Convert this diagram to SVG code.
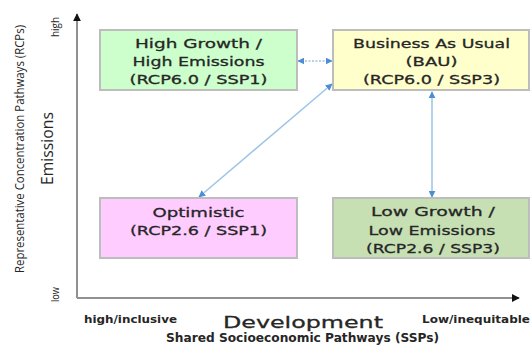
<svg xmlns="http://www.w3.org/2000/svg" width="531" height="345" viewBox="0 0 531 345">
  <style>
    .box { stroke: #bdbdbd; stroke-width: 2; }
    .bt { font-family: "DejaVu Sans", Verdana, sans-serif; font-size: 13px; fill: #262626; stroke: #262626; stroke-width: 0.3; text-anchor: middle; }
    .axis { stroke: #909090; stroke-width: 2; fill: none; }
    .link { stroke: #9dc3e6; stroke-width: 1.5; fill: none; marker-start: url(#tipStart); marker-end: url(#tipEnd); }
    .ax { font-family: "DejaVu Sans", Verdana, sans-serif; fill: #262626; }
    .ay { font-family: "Open Sans", "Liberation Sans", sans-serif; fill: #262626; }
  </style>
  <defs>
    <marker id="tipEnd" viewBox="0 0 10 10" refX="9" refY="5" markerWidth="7" markerHeight="7" markerUnits="userSpaceOnUse" orient="auto">
      <path d="M0,0 L10,5 L0,10 z" fill="#4a8fd4"/>
    </marker>
    <marker id="tipStart" viewBox="0 0 10 10" refX="1" refY="5" markerWidth="7" markerHeight="7" markerUnits="userSpaceOnUse" orient="auto">
      <path d="M10,0 L0,5 L10,10 z" fill="#4a8fd4"/>
    </marker>
    <marker id="axTip" viewBox="0 0 10 10" refX="9" refY="5" markerWidth="8" markerHeight="8" markerUnits="userSpaceOnUse" orient="auto">
      <path d="M0,0 L10,5 L0,10 z" fill="#111"/>
    </marker>
  </defs>

  <rect width="531" height="345" fill="#ffffff"/>

  <!-- axes -->
  <g id="axes">
    <path class="axis" d="M77,298 L77,14" marker-end="url(#axTip)"/>
    <path class="axis" d="M77,298 L519,298" marker-end="url(#axTip)"/>
  </g>

  <!-- axis labels -->
  <g id="axis-labels">
    <text class="ax" x="84" y="323" font-size="10.5" font-weight="bold" textLength="93" lengthAdjust="spacingAndGlyphs">high/inclusive</text>
    <text class="ax" x="223" y="328" font-size="16" stroke="#262626" stroke-width="0.3" textLength="160" lengthAdjust="spacingAndGlyphs">Development</text>
    <text class="ax" x="422" y="323" font-size="10.5" font-weight="bold" textLength="108" lengthAdjust="spacingAndGlyphs">Low/inequitable</text>
    <text class="ax" x="166" y="342" font-size="11.5" font-weight="bold" textLength="273" lengthAdjust="spacingAndGlyphs">Shared Socioeconomic Pathways (SSPs)</text>

    <text class="ay" transform="translate(59,37) rotate(-90)" font-size="11" textLength="20" lengthAdjust="spacingAndGlyphs">high</text>
    <text class="ay" transform="translate(59,302) rotate(-90)" font-size="11" textLength="15" lengthAdjust="spacingAndGlyphs">low</text>
    <text class="ay" transform="translate(53,185) rotate(-90)" font-size="17" textLength="73" lengthAdjust="spacingAndGlyphs">Emissions</text>
    <text class="ay" transform="translate(24,273) rotate(-90)" font-size="12" textLength="248" lengthAdjust="spacingAndGlyphs">Representative Concentration Pathways (RCPs)</text>
  </g>

  <!-- connectors -->
  <g id="connectors">
    <path class="link" d="M298,61 L332,61" stroke-dasharray="2 1.5"/>
    <path class="link" d="M332,84 L199,197"/>
    <path class="link" d="M432,92 L432,197"/>
  </g>

  <!-- nodes -->
  <g id="high-growth">
    <rect class="box" x="100" y="30" width="197" height="60" fill="#ccffcc"/>
    <text class="bt" x="198.5" y="48" textLength="127" lengthAdjust="spacingAndGlyphs">High Growth /</text>
    <text class="bt" x="198.5" y="66" textLength="132" lengthAdjust="spacingAndGlyphs">High Emissions</text>
    <text class="bt" x="198.5" y="84" textLength="138" lengthAdjust="spacingAndGlyphs">(RCP6.0 / SSP1)</text>
  </g>

  <g id="business-as-usual">
    <rect class="box" x="333" y="30" width="196" height="60" fill="#ffffcc"/>
    <text class="bt" x="431.5" y="48" textLength="157" lengthAdjust="spacingAndGlyphs">Business As Usual</text>
    <text class="bt" x="431.5" y="66" textLength="52" lengthAdjust="spacingAndGlyphs">(BAU)</text>
    <text class="bt" x="431.5" y="84" textLength="137" lengthAdjust="spacingAndGlyphs">(RCP6.0 / SSP3)</text>
  </g>

  <g id="optimistic">
    <rect class="box" x="100" y="198" width="197" height="60" fill="#ffccff"/>
    <text class="bt" x="198.5" y="217" textLength="92" lengthAdjust="spacingAndGlyphs">Optimistic</text>
    <text class="bt" x="198.5" y="235" textLength="137" lengthAdjust="spacingAndGlyphs">(RCP2.6 / SSP1)</text>
  </g>

  <g id="low-growth">
    <rect class="box" x="333" y="198" width="196" height="60" fill="#c6e0b4"/>
    <text class="bt" x="433" y="216" textLength="124" lengthAdjust="spacingAndGlyphs">Low Growth /</text>
    <text class="bt" x="432" y="235" textLength="127" lengthAdjust="spacingAndGlyphs">Low Emissions</text>
    <text class="bt" x="433" y="253" textLength="134" lengthAdjust="spacingAndGlyphs">(RCP2.6 / SSP3)</text>
  </g>
</svg>
